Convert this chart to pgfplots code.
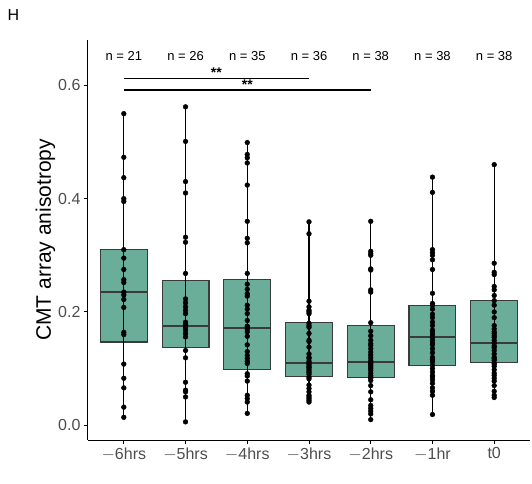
\documentclass[border=0pt]{standalone}
\usepackage{pgfplots}
\pgfplotsset{compat=1.18}
\usepgfplotslibrary{statistics}
\usepackage{fontspec}
\setmainfont{Liberation Sans}
\definecolor{boxfill}{HTML}{6AAD98}
\definecolor{boxdraw}{HTML}{3A3A3A}
\definecolor{tickgray}{HTML}{4D4D4D}
\begin{document}
\begin{tikzpicture}
\path[use as bounding box] (-88pt,-43pt) rectangle (444pt,440pt);
\begin{axis}[at={(0pt,0pt)},anchor=south west,scale only axis,
  width=442pt,height=400pt,
  xmin=-0.58,xmax=6.58,ymin=-0.026,ymax=0.68,
  axis x line*=bottom,axis y line*=left,
  axis line style={line width=1pt,black,-},
  xtick={0,...,6},xticklabels={$-$6hrs,$-$5hrs,$-$4hrs,$-$3hrs,$-$2hrs,$-$1hr,t0},
  ytick={0,0.2,0.4,0.6},yticklabel style={/pgf/number format/fixed,/pgf/number format/precision=1,/pgf/number format/fixed zerofill},
  /pgf/number format/assume math mode=true,
  tick style={black,line width=1pt},tick align=outside,major tick length=4pt,
  ticklabel style={font=\fontsize{16}{16}\selectfont,text=tickgray},
  ylabel={CMT array anisotropy},
  ylabel style={font=\fontsize{21}{21}\selectfont,yshift=-4pt},
  clip=false,
  boxplot/draw direction=y,
  boxplot/box extend=0.76,boxplot/whisker extend=0,
  boxplot/every median/.style={draw=boxdraw,line width=2pt},
  bx/.style={fill=boxfill,draw=boxdraw,line width=1.1pt,solid},
  pts/.style={only marks,mark=*,mark size=2.4pt,black},
  wl/.style={black,line width=1.3pt},
]
\addplot[bx,boxplot prepared={median=0.235,upper quartile=0.310,lower quartile=0.147,upper whisker=0.310,lower whisker=0.147,draw position=0}] coordinates {};
\addplot[bx,boxplot prepared={median=0.175,upper quartile=0.256,lower quartile=0.137,upper whisker=0.256,lower whisker=0.137,draw position=1}] coordinates {};
\addplot[bx,boxplot prepared={median=0.171,upper quartile=0.258,lower quartile=0.098,upper whisker=0.258,lower whisker=0.098,draw position=2}] coordinates {};
\addplot[bx,boxplot prepared={median=0.110,upper quartile=0.181,lower quartile=0.086,upper whisker=0.181,lower whisker=0.086,draw position=3}] coordinates {};
\addplot[bx,boxplot prepared={median=0.111,upper quartile=0.176,lower quartile=0.085,upper whisker=0.176,lower whisker=0.085,draw position=4}] coordinates {};
\addplot[bx,boxplot prepared={median=0.155,upper quartile=0.212,lower quartile=0.105,upper whisker=0.212,lower whisker=0.105,draw position=5}] coordinates {};
\addplot[bx,boxplot prepared={median=0.145,upper quartile=0.220,lower quartile=0.111,upper whisker=0.220,lower whisker=0.111,draw position=6}] coordinates {};
\addplot[wl] coordinates {(0,0.014)(0,0.55)};
\addplot[wl] coordinates {(1,0.006)(1,0.562)};
\addplot[wl] coordinates {(2,0.021)(2,0.499)};
\addplot[wl] coordinates {(3,0.041)(3,0.359)};
\addplot[wl] coordinates {(4,0.010)(4,0.360)};
\addplot[wl] coordinates {(5,0.019)(5,0.438)};
\addplot[wl] coordinates {(6,0.049)(6,0.460)};
\addplot[pts] coordinates {(0,0.55)(0,0.473)(0,0.437)(0,0.40)(0,0.395)(0,0.31)(0,0.295)(0,0.275)(0,0.257)(0,0.252)(0,0.235)(0,0.222)(0,0.208)(0,0.164)(0,0.160)(0,0.108)(0,0.083)(0,0.066)(0,0.032)(0,0.014)(0,0.230)};
\addplot[pts] coordinates {(1,0.562)(1,0.501)(1,0.430)(1,0.410)(1,0.332)(1,0.323)(1,0.268)(1,0.223)(1,0.216)(1,0.209)(1,0.203)(1,0.197)(1,0.182)(1,0.175)(1,0.173)(1,0.168)(1,0.162)(1,0.156)(1,0.132)(1,0.119)(1,0.076)(1,0.062)(1,0.059)(1,0.050)(1,0.006)(1,0.178)};
\addplot[pts] coordinates {(2,0.499)(2,0.478)(2,0.472)(2,0.463)(2,0.424)(2,0.360)(2,0.330)(2,0.322)(2,0.268)(2,0.249)(2,0.232)(2,0.228)(2,0.212)(2,0.197)(2,0.185)(2,0.173)(2,0.170)(2,0.157)(2,0.142)(2,0.123)(2,0.118)(2,0.109)(2,0.091)(2,0.087)(2,0.078)(2,0.053)(2,0.047)(2,0.041)(2,0.021)(2,0.240)(2,0.205)(2,0.165)(2,0.130)(2,0.113)(2,0.175)};
\addplot[pts] coordinates {(3,0.359)(3,0.338)(3,0.219)(3,0.209)(3,0.203)(3,0.197)(3,0.176)(3,0.173)(3,0.162)(3,0.148)(3,0.138)(3,0.126)(3,0.118)(3,0.110)(3,0.104)(3,0.099)(3,0.093)(3,0.082)(3,0.071)(3,0.059)(3,0.053)(3,0.047)(3,0.044)(3,0.041)(3,0.107)(3,0.102)(3,0.096)(3,0.090)(3,0.085)(3,0.120)(3,0.150)(3,0.180)(3,0.200)(3,0.113)(3,0.065)(3,0.050)};
\addplot[pts] coordinates {(4,0.360)(4,0.307)(4,0.303)(4,0.276)(4,0.239)(4,0.235)(4,0.181)(4,0.166)(4,0.144)(4,0.141)(4,0.129)(4,0.119)(4,0.114)(4,0.106)(4,0.100)(4,0.088)(4,0.079)(4,0.059)(4,0.035)(4,0.030)(4,0.025)(4,0.010)(4,0.300)(4,0.274)(4,0.158)(4,0.124)(4,0.111)(4,0.097)(4,0.092)(4,0.083)(4,0.070)(4,0.020)(4,0.150)(4,0.135)(4,0.109)(4,0.103)(4,0.085)(4,0.045)};
\addplot[pts] coordinates {(5,0.438)(5,0.411)(5,0.310)(5,0.305)(5,0.300)(5,0.292)(5,0.275)(5,0.233)(5,0.212)(5,0.205)(5,0.196)(5,0.190)(5,0.182)(5,0.176)(5,0.168)(5,0.160)(5,0.155)(5,0.150)(5,0.142)(5,0.135)(5,0.128)(5,0.120)(5,0.112)(5,0.106)(5,0.100)(5,0.094)(5,0.088)(5,0.080)(5,0.074)(5,0.066)(5,0.060)(5,0.053)(5,0.019)(5,0.215)(5,0.165)(5,0.145)(5,0.116)(5,0.085)};
\addplot[pts] coordinates {(6,0.460)(6,0.286)(6,0.270)(6,0.266)(6,0.239)(6,0.229)(6,0.212)(6,0.220)(6,0.176)(6,0.170)(6,0.162)(6,0.155)(6,0.150)(6,0.145)(6,0.140)(6,0.132)(6,0.126)(6,0.120)(6,0.115)(6,0.110)(6,0.104)(6,0.098)(6,0.092)(6,0.083)(6,0.078)(6,0.070)(6,0.060)(6,0.053)(6,0.049)(6,0.200)(6,0.190)(6,0.165)(6,0.137)(6,0.108)(6,0.088)(6,0.245)(6,0.158)(6,0.118)};
\addplot[black,line width=1.3pt] coordinates {(0,0.612)(3,0.612)};
\addplot[black,line width=1.3pt] coordinates {(0,0.592)(4,0.592)};
\node[font=\fontsize{14}{14}\selectfont\bfseries,anchor=south,inner sep=0.5pt] at (axis cs:1.5,0.612) {**};
\node[font=\fontsize{14}{14}\selectfont\bfseries,anchor=south,inner sep=0.5pt] at (axis cs:2,0.592) {**};
\node[font=\fontsize{13}{13}\selectfont] at (axis cs:0,0.652) {n = 21};
\node[font=\fontsize{13}{13}\selectfont] at (axis cs:1,0.652) {n = 26};
\node[font=\fontsize{13}{13}\selectfont] at (axis cs:2,0.652) {n = 35};
\node[font=\fontsize{13}{13}\selectfont] at (axis cs:3,0.652) {n = 36};
\node[font=\fontsize{13}{13}\selectfont] at (axis cs:4,0.652) {n = 38};
\node[font=\fontsize{13}{13}\selectfont] at (axis cs:5,0.652) {n = 38};
\node[font=\fontsize{13}{13}\selectfont] at (axis cs:6,0.652) {n = 38};
\end{axis}
\node[anchor=north west,font=\fontsize{16}{16}\selectfont] at (-84pt,434pt) {H};
\end{tikzpicture}
\end{document}
